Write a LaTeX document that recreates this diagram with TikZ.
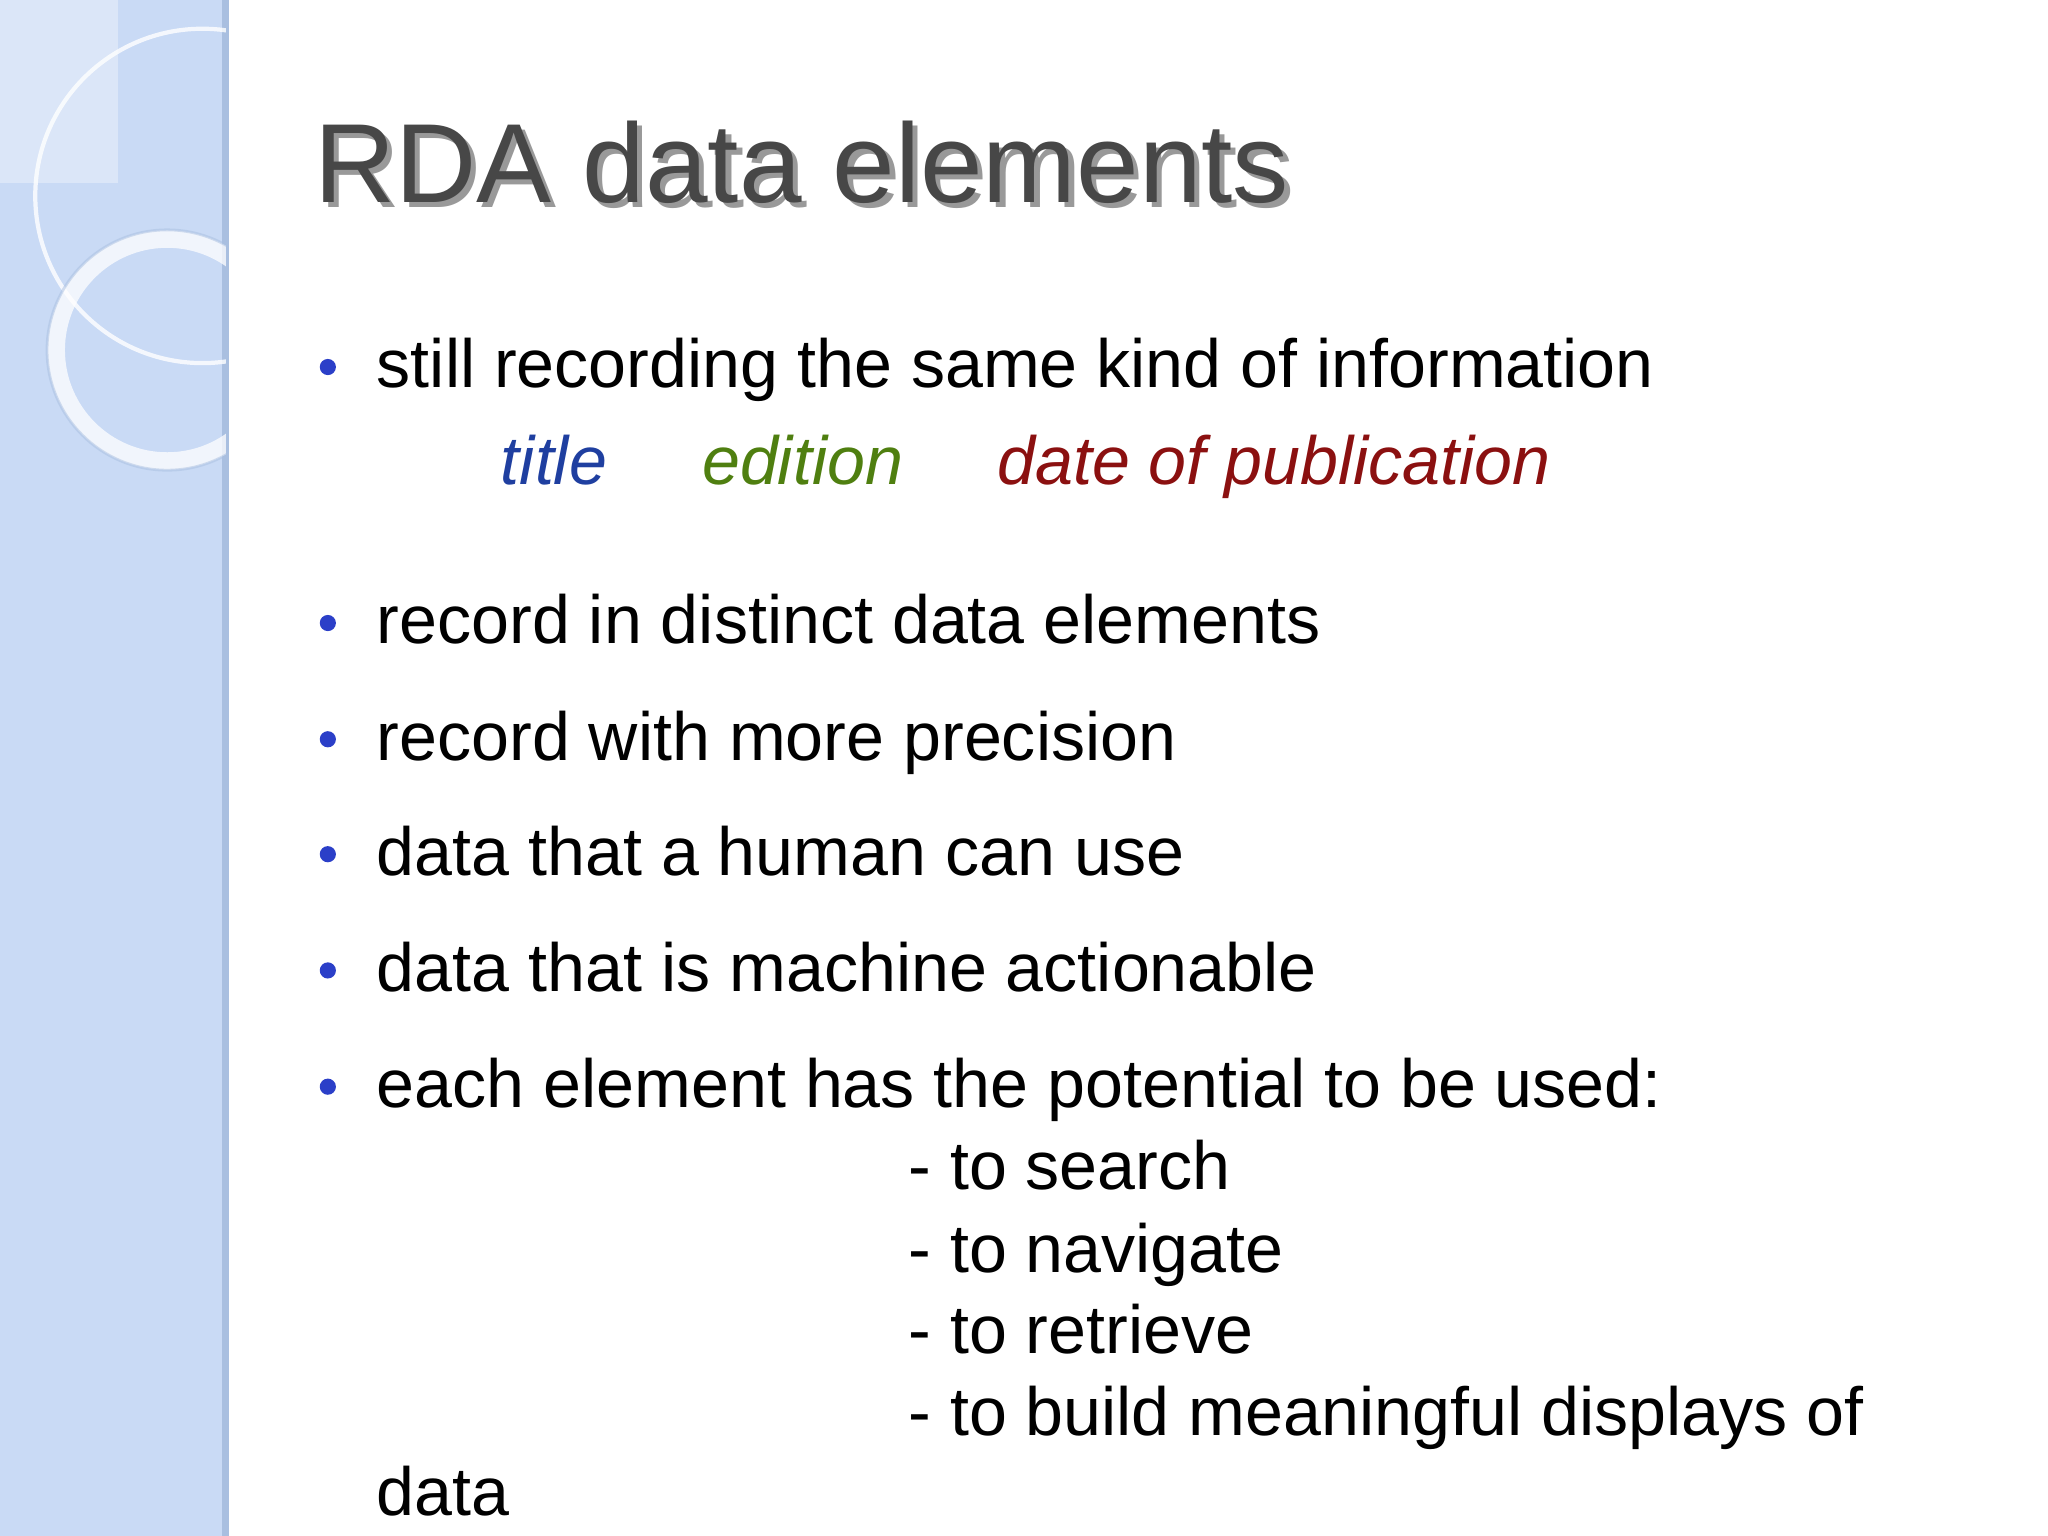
\documentclass[tikz,border=0pt]{standalone}
\usepackage{fontspec}
\setmainfont{Liberation Sans}
\definecolor{side}{HTML}{C9DAF5}
\definecolor{sideedge}{HTML}{A9BFE0}
\definecolor{ttl}{HTML}{474747}
\definecolor{tblue}{HTML}{1F3FA0}
\definecolor{tgreen}{HTML}{4F7F10}
\definecolor{tred}{HTML}{8B1010}
\definecolor{bul}{HTML}{2B3FC8}
\begin{document}
\begin{tikzpicture}[x=0.01306cm,y=-0.01306cm,
  body/.style={anchor=base west,inner sep=0pt,font=\fontsize{19.4}{23}\selectfont},
  dot/.style={circle,fill=bul,inner sep=0pt,minimum size=4.6pt}]
\useasboundingbox (0,0) rectangle (1568,1176);
\fill[white] (0,0) rectangle (1568,1176);
\fill[side] (0,0) rectangle (173,1176);
\draw[sideedge,line width=2pt] (173,0) -- (173,1176);
\begin{scope}
\clip (0,0) rectangle (173,1176);
\fill[white,opacity=0.35] (0,0) rectangle (90,140);
\draw[white,opacity=0.8,line width=1.2pt] (155,150) circle (128);
\draw[white,opacity=0.75,line width=5pt] (128,268) circle (85);
\draw[sideedge,opacity=0.5,line width=0.8pt] (128,268) circle (92);
\end{scope}
\node[anchor=base west,inner sep=0pt,text=black!40,font=\fontsize{32}{36}\selectfont] (tsh) at (244,159) {RDA data elements};
\node[anchor=base west,inner sep=0pt,text=ttl,font=\fontsize{32}{36}\selectfont] (title) at (240,155) {RDA data elements};
\foreach \y/\n in {297/a,493/b,582/c,670/d,759/e,848/f}{\node[dot] (d\n) at (251,\y-16) {};}
\node[body] (t1) at (288,297) {still recording the same kind of information};
\node[body,text=tblue] (t2) at (383,371) {\itshape title};
\node[body,text=tgreen] (t3) at (537,371) {\itshape edition};
\node[body,text=tred] (t4) at (763,371) {\itshape date of publication};
\node[body] (t5) at (288,493) {record in distinct data elements};
\node[body] (t6) at (288,582) {record with more precision};
\node[body] (t7) at (288,670) {data that a human can use};
\node[body] (t8) at (288,759) {data that is machine actionable};
\node[body] (t9) at (288,848) {each element has the potential to be used:};
\node[body] (s1) at (695,911) {- to search};
\node[body] (s2) at (695,974) {- to navigate};
\node[body] (s3) at (695,1036) {- to retrieve};
\node[body] (s4) at (695,1099) {- to build meaningful displays of};
\node[body] (s5) at (288,1160) {data};
\end{tikzpicture}
\end{document}
